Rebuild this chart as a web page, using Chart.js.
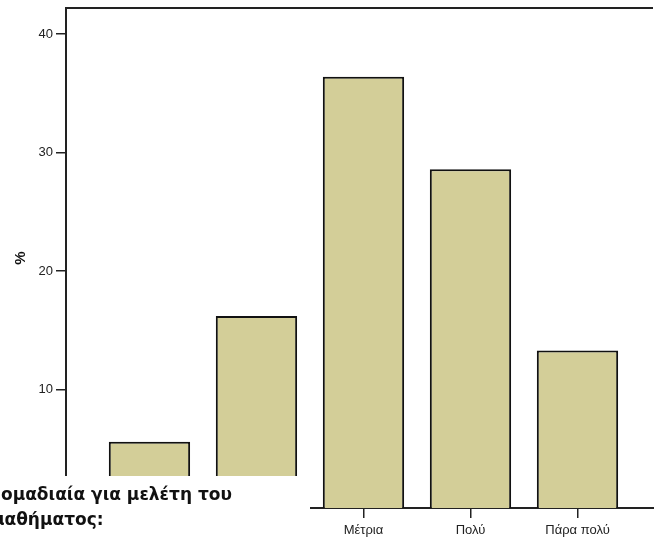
<!DOCTYPE html>
<html>
<head>
<meta charset="utf-8">
<script src="https://cdn.jsdelivr.net/npm/chart.js@4/dist/chart.umd.min.js"></script>
<style>
  html, body { margin: 0; padding: 0; background: #fff; }
  #wrap { width: 654px; height: 538px; position: relative; }
</style>
</head>
<body>
<div id="wrap"><canvas id="chart"></canvas></div>
<script>
// --- DATA ---
const categories = ['Καθόλου', 'Λίγο', 'Μέτρια', 'Πολύ', 'Πάρα πολύ'];
const percentValues = [5.6, 16.2, 36.4, 28.6, 13.3];
const yTicks = [10, 20, 30, 40];
const xTitleLines = ['ομαδιαία για μελέτη του', 'μαθήματος:'];

const barFill = '#d3ce98';
const inkColor = '#222';
const tickFont = { family: '"Liberation Sans", Arial, sans-serif', size: 13 };

// White box with the (clipped) axis title, plus the frame's top line
const overlayPlugin = {
    id: 'overlay',
    afterDraw(chart) {
        const { ctx, chartArea } = chart;
        ctx.save();
        // top line of the frame
        ctx.strokeStyle = inkColor;
        ctx.lineWidth = 2;
        ctx.beginPath();
        ctx.moveTo(chartArea.left, chartArea.top);
        ctx.lineTo(chartArea.right - 1, chartArea.top);
        ctx.stroke();

        // title box covering the lower left corner
        ctx.fillStyle = '#fff';
        ctx.fillRect(0, 476, 310, 62);
        ctx.fillStyle = '#111';
        ctx.font = 'bold 17px "DejaVu Sans", Verdana, sans-serif';
        ctx.textBaseline = 'alphabetic';
        ctx.fillText(xTitleLines[0], 1, 500);
        ctx.fillText(xTitleLines[1], -8, 525);
        ctx.restore();
    }
};

const ctx = document.getElementById('chart');
new Chart(ctx, {
    type: 'bar',
    data: {
        datasets: [{
            data: percentValues.map((v, i) => ({ x: i, y: v })),
            backgroundColor: barFill,
            borderColor: '#111',
            borderWidth: 2,
            borderSkipped: 'start',
            barPercentage: 0.76,
            categoryPercentage: 1.0
        }]
    },
    options: {
        responsive: true,
        maintainAspectRatio: false,
        animation: false,
        layout: { padding: { top: 8, right: 0, left: 0, bottom: 0 } },
        plugins: {
            legend: { display: false },
            tooltip: { enabled: false }
        },
        scales: {
            x: {
                type: 'linear',
                offset: false,
                min: -0.78,
                max: 4.715,
                afterBuildTicks: (scale) => {
                    scale.ticks = categories.map((_, i) => ({ value: i }));
                },
                afterFit: (scale) => { scale.height = 30; },
                grid: { offset: false, drawOnChartArea: false, tickLength: 10, color: inkColor, lineWidth: 1.5 },
                border: { color: inkColor, width: 2 },
                ticks: {
                    autoSkip: false,
                    maxRotation: 0,
                    padding: 5,
                    color: '#222',
                    font: tickFont,
                    callback: (v) => categories[v] ?? ''
                }
            },
            y: {
                min: 0,
                max: 42.2,
                afterBuildTicks: (scale) => {
                    scale.ticks = yTicks.map(v => ({ value: v }));
                },
                afterFit: (scale) => {
                    scale.width = 66;
                    scale.paddingTop = 0;
                    scale.paddingBottom = 0;
                },
                grid: { drawOnChartArea: false, tickLength: 10, color: inkColor, lineWidth: 1.5 },
                border: { color: inkColor, width: 2 },
                ticks: {
                    padding: 3,
                    color: '#222',
                    font: tickFont
                },
                title: {
                    display: true,
                    text: '%',
                    color: '#111',
                    padding: { top: 12, bottom: 0 },
                    font: { family: '"Liberation Sans", Arial, sans-serif', size: 15, weight: 'bold' }
                }
            }
        }
    },
    plugins: [overlayPlugin]
});
</script>
</body>
</html>
